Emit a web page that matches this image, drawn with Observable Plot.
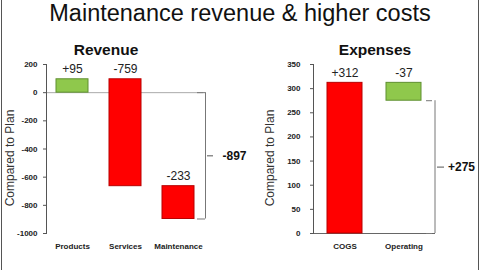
<!DOCTYPE html>
<html>
<head>
<meta charset="utf-8">
<script src="https://cdn.jsdelivr.net/npm/d3@7"></script>
<script src="https://cdn.jsdelivr.net/npm/@observablehq/plot@0.6"></script>
<style>
  html, body { margin: 0; padding: 0; background: #fff; }
  #wrap { position: relative; width: 480px; height: 270px; overflow: hidden; font-family: "Liberation Sans", Arial, sans-serif; }
  #title { position: absolute; left: 0; top: -2px; width: 480px; height: 30px; line-height: 30px; text-align: center; font-size: 23.5px; color: #111; }
  .edge { position: absolute; top: 0; width: 1px; height: 270px; background: #555; }
  #left { position: absolute; left: 0; top: 30px; }
  #right { position: absolute; left: 250px; top: 30px; }
</style>
</head>
<body>
<div id="wrap">
  <div id="title">Maintenance revenue &amp; higher costs</div>
  <div id="left"></div>
  <div id="right"></div>
  <div class="edge" style="left:1px"></div>
  <div class="edge" style="left:478px"></div>
</div>
<script>
const revCats = ["Products", "Services", "Maintenance"];
const revVals = [95, -759, -233];
const revTicks = [200, 0, -200, -400, -600, -800, -1000];

const expCats = ["COGS", "Operating"];
const expVals = [312, -37];
const expTicks = [0, 50, 100, 150, 200, 250, 300, 350];

const GREEN = "#8fc84c", GREEN_EDGE = "#5f8f30";
const RED = "#ff0000", RED_EDGE = "#b80000";
const fmtSigned = d => (d > 0 ? "+" : "") + d;

function waterfall(cats, vals, goodSign) {
  let acc = 0;
  return cats.map((c, i) => {
    const y1 = acc; acc += vals[i];
    const good = Math.sign(vals[i]) === goodSign;
    return {cat: c, value: vals[i], y1, y2: acc, top: Math.max(y1, acc),
            fill: good ? GREEN : RED, stroke: good ? GREEN_EDGE : RED_EDGE,
            label: fmtSigned(vals[i])};
  });
}

function panel({cats, vals, goodSign, ticks, domain, title, width, marginLeft, marginRight,
                padOuter, tickPad, labelDx, titleDx, zeroColor, br}) {
  const data = waterfall(cats, vals, goodSign);
  const total = d3.sum(vals);
  const last = cats[cats.length - 1];
  const bracketTop = goodSign > 0 ? 0 : total;
  const bracketBottom = goodSign > 0 ? total : 0;
  return Plot.plot({
    width, height: 240, marginLeft, marginRight, marginTop: 34, marginBottom: 37,
    style: {fontFamily: "Liberation Sans, Arial, sans-serif", background: "transparent", color: "#222"},
    x: {domain: cats, paddingInner: 0.4, paddingOuter: padOuter},
    y: {domain},
    color: {type: "identity"},
    marks: [
      Plot.ruleY([0], {stroke: zeroColor}),
      Plot.frame({anchor: "left", stroke: "#555"}),
      Plot.axisY({ticks, tickSize: 3, tickPadding: tickPad, tickFormat: d => String(d),
                  fontWeight: "bold", fontSize: 8, label: null, stroke: "#555"}),
      Plot.axisX({anchor: "bottom", tickSize: 0, tickPadding: 10, fontWeight: "bold",
                  fontSize: 8, label: null}),
      Plot.text(["Compared to Plan"], {text: d => d, frameAnchor: "left", textAnchor: "middle",
                  rotate: -90, dx: labelDx, dy: 9, fontSize: 12, fill: "#333"}),
      Plot.text([title], {text: d => d, frameAnchor: "top", dx: titleDx, dy: -21,
                  fontSize: 15.5, fontWeight: "bold", fill: "#111"}),
      Plot.barY(data, {x: "cat", y1: "y1", y2: "y2", fill: "fill", stroke: "stroke", strokeWidth: 1}),
      Plot.text(data, {x: "cat", y: "top", text: "label", dy: -10, fontSize: 12, fill: "#222"}),
      // bracket showing the total
      Plot.ruleX([total], {x: () => last, y1: bracketTop, y2: bracketBottom, dx: br.v, stroke: "#777"}),
      Plot.tickY([bracketTop, bracketBottom], {x: () => last, y: d => d, insetLeft: br.endL,
                  insetRight: br.endR, stroke: "#777"}),
      Plot.tickY([total / 2], {x: () => last, y: d => d, insetLeft: br.midL,
                  insetRight: br.midR, stroke: "#555"}),
      Plot.text([total], {x: () => last, y: d => d / 2, text: fmtSigned, dx: br.lab,
                  textAnchor: "start", fontWeight: "bold", fontSize: 12, fill: "#111"})
    ]
  });
}

document.getElementById("left").append(panel({
  cats: revCats, vals: revVals, goodSign: 1, ticks: revTicks, domain: [-1000, 200],
  title: "Revenue", width: 250, marginLeft: 46, marginRight: 47, padOuter: 0.18,
  tickPad: 6, labelDx: -36, titleDx: -19, zeroColor: "#aaa",
  br: {v: 27, endL: 35, endR: -11, midL: 45, midR: -19, lab: 44}
}));

document.getElementById("right").append(panel({
  cats: expCats, vals: expVals, goodSign: -1, ticks: expTicks, domain: [0, 350],
  title: "Expenses", width: 230, marginLeft: 63, marginRight: 45, padOuter: 0.22,
  tickPad: 10, labelDx: -43, titleDx: 0.5, zeroColor: "#666",
  br: {v: 31, endL: 40, endR: -11, midL: 51, midR: -23, lab: 44}
}));
</script>
</body>
</html>
